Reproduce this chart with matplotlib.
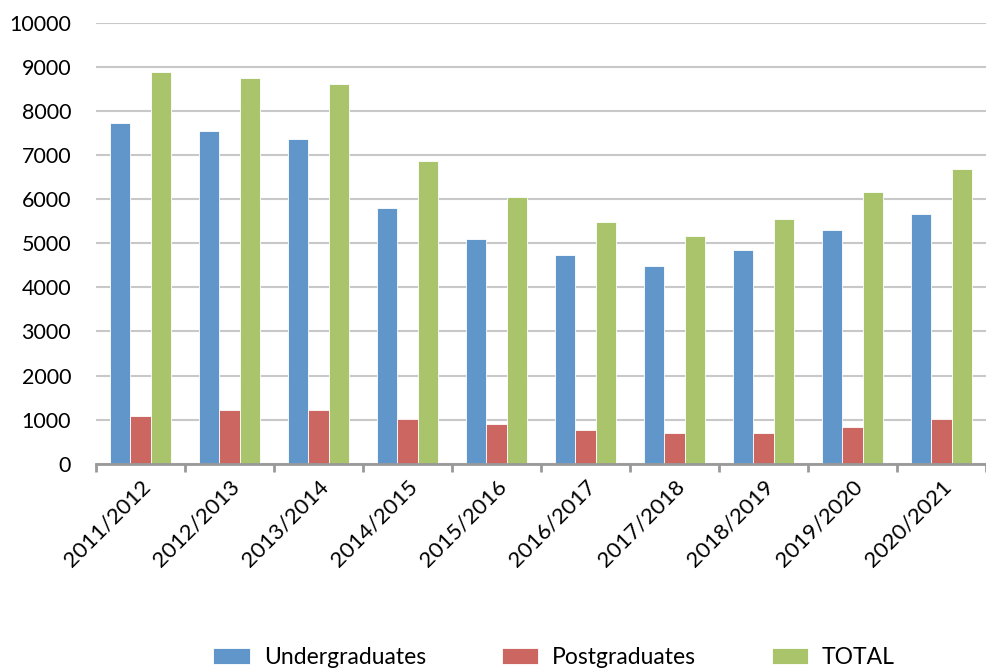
import matplotlib
matplotlib.use("Agg")
import matplotlib.pyplot as plt
import numpy as np

years = ["2011/2012", "2012/2013", "2013/2014", "2014/2015", "2015/2016",
         "2016/2017", "2017/2018", "2018/2019", "2019/2020", "2020/2021"]
undergraduates = [7730, 7545, 7360, 5790, 5095, 4725, 4475, 4850, 5290, 5670]
postgraduates = [1080, 1210, 1210, 1020, 895, 765, 705, 705, 830, 1020]
total = [8875, 8745, 8615, 6855, 6040, 5480, 5165, 5540, 6170, 6675]
series_names = ["Undergraduates", "Postgraduates", "TOTAL"]
colors = ["#6096C9", "#CC6660", "#AAC46B"]

plt.rcParams['font.family'] = ['Lato', 'DejaVu Sans']

fig = plt.figure(figsize=(9.86, 6.68), dpi=100)
ax = fig.add_axes([0.0974, 0.3058, 0.9026, 0.6602])

x = np.arange(len(years))
w = 0.228
for i, (vals, name, c) in enumerate(zip([undergraduates, postgraduates, total], series_names, colors)):
    ax.bar(x + (i - 1) * w, vals, width=w, color=c, edgecolor="white", linewidth=0.6,
           label=name, zorder=3)

ax.set_xlim(-0.5, len(years) - 0.5)
ax.set_ylim(0, 10000)
ax.set_yticks(np.arange(0, 10001, 1000))
ax.yaxis.grid(True, color="#C8C8C8", linewidth=1.5, zorder=0)
ax.set_axisbelow(True)
for s in ["top", "right", "left"]:
    ax.spines[s].set_visible(False)
ax.spines["bottom"].set_color("#999999")
ax.spines["bottom"].set_linewidth(2)
ax.spines["bottom"].set_zorder(4)

ax.set_xticks(x)
ax.set_xticklabels(years, rotation=45, ha="right", rotation_mode="anchor", fontsize=16)
ax.tick_params(axis="x", which="major", length=0, pad=9)
ax.set_xticks(np.arange(-0.5, len(years), 1.0), minor=True)
ax.tick_params(axis="x", which="minor", length=6, width=2, color="#999999", direction="out")
ax.tick_params(axis="y", length=0, labelsize=15.5, pad=18)

leg = fig.legend(loc="center", bbox_to_anchor=(0.562, 0.016), ncol=3, frameon=False,
                 prop={"family": "Lato", "size": 16.5},
                 handlelength=1.6, handleheight=0.7, handletextpad=0.6, columnspacing=3.3)

fig.savefig("out.png", dpi=100)
